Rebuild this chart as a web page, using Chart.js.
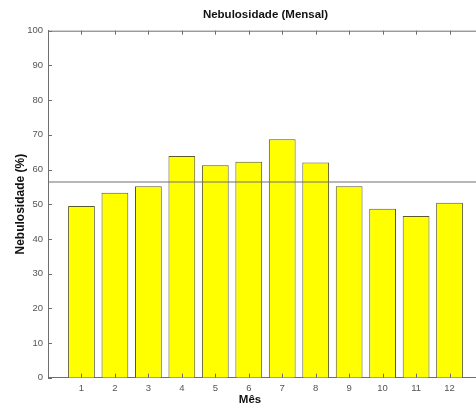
<!DOCTYPE html>
<html>
<head>
<meta charset="utf-8">
<script src="https://cdn.jsdelivr.net/npm/chart.js@4/dist/chart.umd.min.js"></script>
<style>
  html, body { margin: 0; padding: 0; background: #fff; }
  #wrap { width: 476px; height: 407px; overflow: hidden; position: relative; }
  canvas { display: block; }
</style>
</head>
<body>
<div id="wrap"><canvas id="c" width="520" height="407"></canvas></div>
<script>
// Monthly cloud cover (%)
const months = [1, 2, 3, 4, 5, 6, 7, 8, 9, 10, 11, 12];
const cloudiness = [49.5, 53.3, 55.2, 63.9, 61.2, 62.2, 68.7, 62.0, 55.2, 48.7, 46.6, 50.4];
const annualMean = 56.4;
const yTickValues = [0, 10, 20, 30, 40, 50, 60, 70, 80, 90, 100];
const xRange = [0, 13];

const FONT = "'Liberation Sans', Arial, Helvetica, sans-serif";
const AXIS_COLOR = '#6e6e6e';

// Box frame with inward tick marks (top, bottom, left, right)
const frameTicks = {
  id: 'frameTicks',
  afterDatasetsDraw(chart) {
    const { ctx, chartArea: a, scales: { x, y } } = chart;
    const len = 4;
    ctx.save();
    ctx.strokeStyle = AXIS_COLOR;
    ctx.lineWidth = 1;
    ctx.beginPath();
    // top border
    ctx.moveTo(a.left, a.top + 0.5);
    ctx.lineTo(a.right, a.top + 0.5);
    // right border
    ctx.moveTo(a.right - 0.5, a.top);
    ctx.lineTo(a.right - 0.5, a.bottom);
    months.forEach(m => {
      const px = Math.round(x.getPixelForValue(m)) + 0.5;
      ctx.moveTo(px, a.bottom);
      ctx.lineTo(px, a.bottom - len);
      ctx.moveTo(px, a.top);
      ctx.lineTo(px, a.top + len);
    });
    yTickValues.forEach(v => {
      const py = Math.round(y.getPixelForValue(v)) + 0.5;
      ctx.moveTo(a.left, py);
      ctx.lineTo(a.left + len, py);
      ctx.moveTo(a.right, py);
      ctx.lineTo(a.right - len, py);
    });
    ctx.stroke();
    ctx.restore();
  }
};

// x-axis caption
const xCaption = {
  id: 'xCaption',
  afterDraw(chart) {
    const { ctx } = chart;
    ctx.save();
    ctx.font = "bold 11.5px " + FONT;
    ctx.fillStyle = '#111';
    ctx.textAlign = 'center';
    ctx.textBaseline = 'middle';
    ctx.fillText('Mês', 250, 400);
    ctx.restore();
  }
};

new Chart(document.getElementById('c'), {
  type: 'bar',
  data: {
    datasets: [
      {
        type: 'line',
        data: xRange.map(v => ({ x: v, y: annualMean })),
        borderColor: '#707070',
        borderWidth: 1,
        pointRadius: 0,
        order: 0
      },
      {
        type: 'bar',
        data: months.map((m, i) => ({ x: m, y: cloudiness[i] })),
        backgroundColor: '#ffff00',
        borderColor: '#5a5a30',
        borderWidth: 1,
        borderSkipped: 'bottom',
        barPercentage: 0.8,
        categoryPercentage: 1.0,
        order: 1
      }
    ]
  },
  options: {
    responsive: false,
    animation: false,
    layout: { padding: { left: 0, right: 37, top: 0, bottom: 0 } },
    plugins: {
      legend: { display: false },
      tooltip: { enabled: false },
      title: {
        display: true,
        text: 'Nebulosidade (Mensal)',
        fullSize: false,
        color: '#111',
        font: { family: FONT, size: 11.5, weight: 'bold', lineHeight: 1.2 },
        padding: { top: 8, bottom: 8.9 }
      }
    },
    scales: {
      x: {
        type: 'linear',
        min: xRange[0],
        max: xRange[1],
        offset: false,
        grid: { display: false, drawTicks: false },
        border: { display: true, color: AXIS_COLOR, width: 1 },
        afterBuildTicks(scale) { scale.ticks = months.map(v => ({ value: v })); },
        afterFit(scale) { scale.height = 29.3; },
        ticks: {
          padding: 5,
          color: '#555',
          maxRotation: 0,
          autoSkip: false,
          font: { family: FONT, size: 9.5 },
          callback: v => String(v)
        }
      },
      y: {
        min: 0,
        max: 100,
        grid: { display: false, drawTicks: false },
        border: { display: true, color: AXIS_COLOR, width: 1 },
        afterBuildTicks(scale) { scale.ticks = yTickValues.map(v => ({ value: v })); },
        afterFit(scale) { scale.width = 48; },
        ticks: {
          padding: 5,
          color: '#555',
          font: { family: FONT, size: 9.5 },
          callback: v => String(v)
        },
        title: {
          display: true,
          text: 'Nebulosidade (%)',
          color: '#111',
          font: { family: FONT, size: 12, weight: 'bold', lineHeight: 1.2 },
          padding: { top: 13, bottom: 0 }
        }
      }
    }
  },
  plugins: [frameTicks, xCaption]
});
</script>
</body>
</html>
